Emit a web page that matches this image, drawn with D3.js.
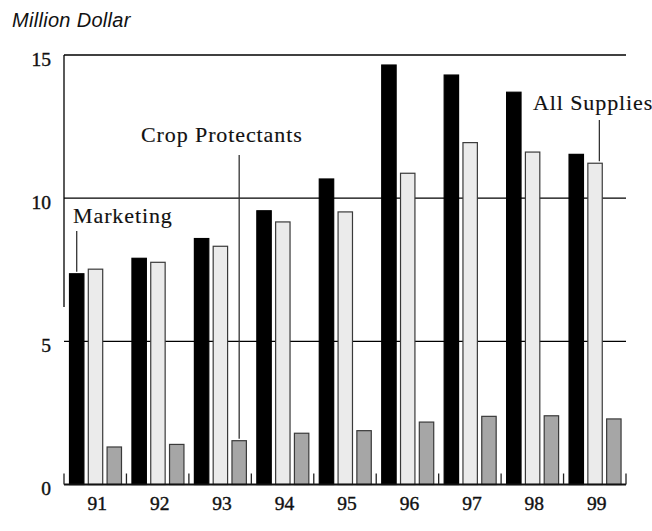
<!DOCTYPE html>
<html>
<head>
<meta charset="utf-8">
<script src="https://cdn.jsdelivr.net/npm/d3@7/dist/d3.min.js"></script>
<style>
html, body { margin: 0; padding: 0; background: #fff; }
svg { display: block; }
</style>
</head>
<body>
<svg id="chart" width="652" height="531"></svg>
<script>
// ---- data ----
const years = ["91", "92", "93", "94", "95", "96", "97", "98", "99"];
const seriesNames = ["Marketing", "All Supplies", "Crop Protectants"];
const marketing = [7.36, 7.90, 8.59, 9.56, 10.67, 14.65, 14.30, 13.70, 11.53];
const allSupplies = [7.52, 7.76, 8.32, 9.17, 9.52, 10.87, 11.94, 11.61, 11.22];
const cropProtectants = [1.31, 1.40, 1.53, 1.79, 1.88, 2.18, 2.38, 2.40, 2.29];
const yTicks = [0, 5, 10, 15];
const yTitle = "Million Dollar";

(function () {
const seriesValues = [marketing, allSupplies, cropProtectants];
const fills = ["#000000", "#ebebeb", "#a6a6a6"];
const strokes = ["#000000", "#3a3a3a", "#3a3a3a"];

const svg = d3.select("#chart");
const mLeft = 64, mRight = 626, mTop = 55, mBottom = 484.5;

const x0 = d3.scaleBand().domain(years).range([mLeft, mRight]).paddingInner(0).paddingOuter(0);
const x1 = d3.scaleBand().domain(seriesNames).range([5, 58]).paddingInner(0.18).paddingOuter(0);
const y = d3.scaleLinear().domain([0, 15]).range([mBottom, mTop]);

// title
svg.append("text")
  .attr("x", 12).attr("y", 26.5)
  .attr("font-family", "Liberation Sans, Arial, sans-serif")
  .attr("font-style", "italic")
  .attr("font-size", 20)
  .attr("letter-spacing", 0.3)
  .attr("fill", "#111")
  .text(yTitle);

// gridlines (5, 10, 15)
svg.append("g").selectAll("line")
  .data(yTicks.filter(d => d > 0))
  .join("line")
  .attr("x1", mLeft).attr("x2", mRight)
  .attr("y1", d => y(d)).attr("y2", d => y(d))
  .attr("stroke", "#000").attr("stroke-width", 1.3);

// left axis segment
svg.append("line")
  .attr("x1", mLeft).attr("x2", mLeft)
  .attr("y1", y(15)).attr("y2", y(6.2))
  .attr("stroke", "#000").attr("stroke-width", 1.3);

// y tick labels
svg.append("g").selectAll("text")
  .data(yTicks)
  .join("text")
  .attr("x", 51)
  .attr("y", d => y(d) + 4)
  .attr("dy", "0.35em")
  .attr("text-anchor", "end")
  .attr("font-family", "Liberation Serif, Times New Roman, serif")
  .attr("font-size", 19.5)
  .attr("fill", "#111")
  .attr("stroke", "#111").attr("stroke-width", 0.4)
  .text(d => d);

// bars
const groups = svg.append("g").selectAll("g")
  .data(years)
  .join("g")
  .attr("transform", d => `translate(${x0(d)},0)`);

groups.selectAll("rect")
  .data((yr, i) => seriesNames.map((s, k) => ({ s, k, v: seriesValues[k][i] })))
  .join("rect")
  .attr("x", d => x1(d.s) + 0.5)
  .attr("width", x1.bandwidth() - 1)
  .attr("y", d => y(d.v))
  .attr("height", d => y(0) - y(d.v))
  .attr("fill", d => fills[d.k])
  .attr("stroke", d => strokes[d.k])
  .attr("stroke-width", 1.2);

// bottom axis
svg.append("line")
  .attr("x1", mLeft).attr("x2", mRight)
  .attr("y1", mBottom).attr("y2", mBottom)
  .attr("stroke", "#111").attr("stroke-width", 2);

// category separator ticks
const bounds = years.map(d => x0(d)).concat([mRight]);
svg.append("g").selectAll("line")
  .data(bounds)
  .join("line")
  .attr("x1", d => d).attr("x2", d => d)
  .attr("y1", mBottom - 11).attr("y2", mBottom)
  .attr("stroke", "#222").attr("stroke-width", 1.3);

// x labels
svg.append("g").selectAll("text")
  .data(years)
  .join("text")
  .attr("x", d => x0(d) + x0.bandwidth() / 2 + 2)
  .attr("y", 510)
  .attr("text-anchor", "middle")
  .attr("font-family", "Liberation Serif, Times New Roman, serif")
  .attr("font-size", 19.5)
  .attr("fill", "#111")
  .attr("stroke", "#111").attr("stroke-width", 0.4)
  .text(d => d);

// annotations (leader lines + labels)
const annotations = [
  { label: "Marketing", year: "91", series: "Marketing", frac: 0.5, lineTop: 231, tx: 73, ty: 223 },
  { label: "Crop Protectants", year: "93", series: "Crop Protectants", frac: 0.5, lineTop: 155, tx: 141, ty: 141.5 },
  { label: "All Supplies", year: "99", series: "All Supplies", frac: 0.78, lineTop: 120, tx: 533, ty: 110 }
];
annotations.forEach(a => {
  const k = seriesNames.indexOf(a.series);
  const i = years.indexOf(a.year);
  const bx = x0(a.year) + x1(a.series) + x1.bandwidth() * a.frac;
  svg.append("line")
    .attr("x1", bx).attr("x2", bx)
    .attr("y1", a.lineTop).attr("y2", y(seriesValues[k][i]) - 2)
    .attr("stroke", "#333").attr("stroke-width", 1.3);
  svg.append("text")
    .attr("x", a.tx).attr("y", a.ty)
    .attr("font-family", "Liberation Serif, Times New Roman, serif")
    .attr("font-size", 22)
    .attr("letter-spacing", 0.9)
    .attr("fill", "#111")
    .attr("stroke", "#111").attr("stroke-width", 0.15)
    .text(a.label);
});
})();
</script>
</body>
</html>
